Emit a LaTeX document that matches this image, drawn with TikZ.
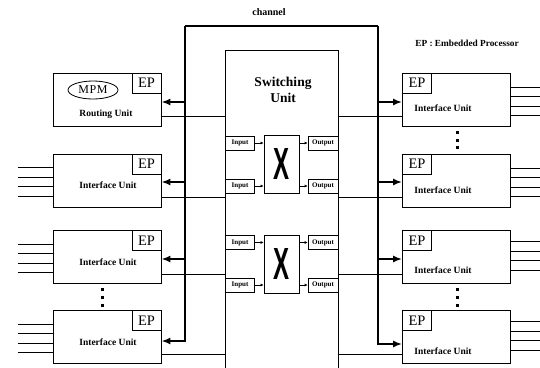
\documentclass[tikz,border=0pt]{standalone}
\usepackage{fontspec}
\usepackage{graphicx}
\setmainfont{Liberation Serif}
\newfontfamily\xsans{Liberation Sans}
\usetikzlibrary{arrows.meta,shapes.geometric}
\begin{document}
\begin{tikzpicture}[x=1pt,y=-1pt,
  unitbox/.style={draw, line width=0.8pt, minimum width=108pt, minimum height=53pt, inner sep=0pt},
  epbox/.style={draw, line width=0.8pt, minimum width=29pt, minimum height=20pt, inner sep=0pt, font=\fontsize{14.5}{14.5}\selectfont},
  lbl/.style={font=\bfseries\fontsize{9.5}{9.5}\selectfont},
  iobox/.style={draw, line width=0.6pt, minimum height=14pt, inner sep=0pt, font=\bfseries\fontsize{7}{7}\selectfont},
  xbox/.style={draw, line width=0.8pt, minimum width=35pt, minimum height=58pt, inner sep=0pt},
  chan/.style={line width=2.2pt},
  chanarrow/.style={line width=2.2pt, -{Latex[length=9pt,width=7pt]}},
  wire/.style={line width=0.7pt},
  smallarrow/.style={line width=0.6pt,-{Latex[length=3pt,width=3pt]}},
  dotsq/.style={fill, minimum size=3pt, inner sep=0pt}
]
\useasboundingbox (0,0) rectangle (540,367);
\fill[white] (0,0) rectangle (540,367);

% switching unit
\node[draw, line width=0.8pt, minimum width=113pt, minimum height=325pt, inner sep=0pt] (S) at (281.5,212.5) {};
\node[font=\bfseries\fontsize{13.5}{16}\selectfont, align=center] (st) at (283,90) {Switching\\Unit};

% units
\node[unitbox] (L1) at (107,99.5) {};
\node[unitbox] (L2) at (107,180.5) {};
\node[unitbox] (L3) at (107,257) {};
\node[unitbox] (L4) at (107,337) {};
\node[unitbox] (R1) at (456.5,99.5) {};
\node[unitbox] (R2) at (456.5,180.5) {};
\node[unitbox] (R3) at (456.5,257) {};
\node[unitbox] (R4) at (456.5,337) {};

\foreach \n in {L1,L2,L3,L4} \node[epbox, anchor=north east] (EP\n) at (\n.north east) {EP};
\foreach \n in {R1,R2,R3,R4} \node[epbox, anchor=north west] (EP\n) at (\n.north west) {EP};

\node[draw, ellipse, line width=0.8pt, minimum width=50pt, minimum height=18pt, inner sep=0pt, font=\fontsize{12}{12}\selectfont] (mpm) at (93,90) {M\kern0.5pt P\kern0.5pt M};
\node[lbl] (rl) at (106,114) {Routing Unit};
\node[lbl] (l2t) at (108,185) {Interface Unit};
\node[lbl] (l3t) at (108,262) {Interface Unit};
\node[lbl] (l4t) at (108,342) {Interface Unit};
\node[lbl] (r1t) at (443,108) {Interface Unit};
\node[lbl] (r2t) at (443,190) {Interface Unit};
\node[lbl] (r3t) at (443,270) {Interface Unit};
\node[lbl] (r4t) at (443,351) {Interface Unit};

% texts
\node[font=\bfseries\fontsize{10}{10}\selectfont] (chtxt) at (269,12) {channel};
\node[font=\bfseries\fontsize{9.3}{9.3}\selectfont] (eptxt) at (467,43) {EP : Embedded Processor};

% stubs
\foreach \n in {L2,L3,L4}
  \foreach \o in {14,23.5,33,42.5}
    \draw[wire] ([yshift=-\o pt]\n.north west) -- ++(-35,0);
\foreach \n in {R1,R2}
  \foreach \o in {15,24,33.5,43}
    \draw[wire] ([yshift=-\o pt]\n.north east) -- ++(35,0);
\foreach \n in {R3,R4}
  \foreach \o in {11,21,30.5,40.5}
    \draw[wire] ([yshift=-\o pt]\n.north east) -- ++(35,0);

% wires to switching unit
\foreach \n in {L1,L2,L3,L4} {
  \coordinate (w\n) at ([yshift=10pt]\n.south east);
  \draw[wire] (w\n) -- (w\n -| S.west);
}
\foreach \n in {R1,R2,R3,R4} {
  \coordinate (w\n) at ([yshift=10pt]\n.south west);
  \draw[wire] (w\n) -- (w\n -| S.east);
}

% channel
\coordinate (tl) at (185,26);
\coordinate (tr) at (378,26);
\coordinate (aL1) at ([yshift=-2.5pt]L1.east);
\coordinate (aL2) at ([yshift=-1.5pt]L2.east);
\coordinate (aL3) at ([yshift=-2pt]L3.east);
\coordinate (aL4) at ([yshift=-4pt]L4.east);
\coordinate (aR1) at ([yshift=-2.5pt]R1.west);
\coordinate (aR2) at ([yshift=-1.5pt]R2.west);
\coordinate (aR3) at ([yshift=-2pt]R3.west);
\coordinate (aR4) at ([yshift=-7pt]R4.west);
\draw[chan] (tl) -- (tr);
\draw[chanarrow] (tl) -- (tl |- aL4) -- (aL4);
\draw[chanarrow] (tr) -- (tr |- aR4) -- (aR4);
\foreach \n in {L1,L2,L3} \draw[chanarrow] (tl |- a\n) -- (a\n);
\foreach \n in {R1,R2,R3} \draw[chanarrow] (tr |- a\n) -- (a\n);

% crossbars
\node[xbox] (X1) at (281.5,164) {\xsans\bfseries\resizebox{16pt}{31pt}{X}};
\node[xbox] (X2) at (281.5,264) {\xsans\bfseries\resizebox{16pt}{31pt}{X}};
\node[iobox, minimum width=29pt] (I1) at (240,143) {Input};
\node[iobox, minimum width=29pt] (I2) at (240,186) {Input};
\node[iobox, minimum width=29pt] (I3) at (240,242.5) {Input};
\node[iobox, minimum width=29pt] (I4) at (240,285) {Input};
\node[iobox, minimum width=30pt] (O1) at (323,143) {Output};
\node[iobox, minimum width=30pt] (O2) at (323,186) {Output};
\node[iobox, minimum width=30pt] (O3) at (323,242.5) {Output};
\node[iobox, minimum width=30pt] (O4) at (323,285) {Output};
\draw[smallarrow] (I1) -- (I1 -| X1.west);
\draw[smallarrow] (I2) -- (I2 -| X1.west);
\draw[smallarrow] (I3) -- (I3 -| X2.west);
\draw[smallarrow] (I4) -- (I4 -| X2.west);
\draw[smallarrow] (O1 -| X1.east) -- (O1);
\draw[smallarrow] (O2 -| X1.east) -- (O2);
\draw[smallarrow] (O3 -| X2.east) -- (O3);
\draw[smallarrow] (O4 -| X2.east) -- (O4);

% dots
\foreach \y [count=\i] in {289,297,305} {
  \node[dotsq] (dl\i) at (102,\y) {};
  \node[dotsq] (dr\i) at (457,\y) {};
}
\foreach \y [count=\i] in {132,140,147} \node[dotsq] (du\i) at (457,\y) {};
\end{tikzpicture}
\end{document}
